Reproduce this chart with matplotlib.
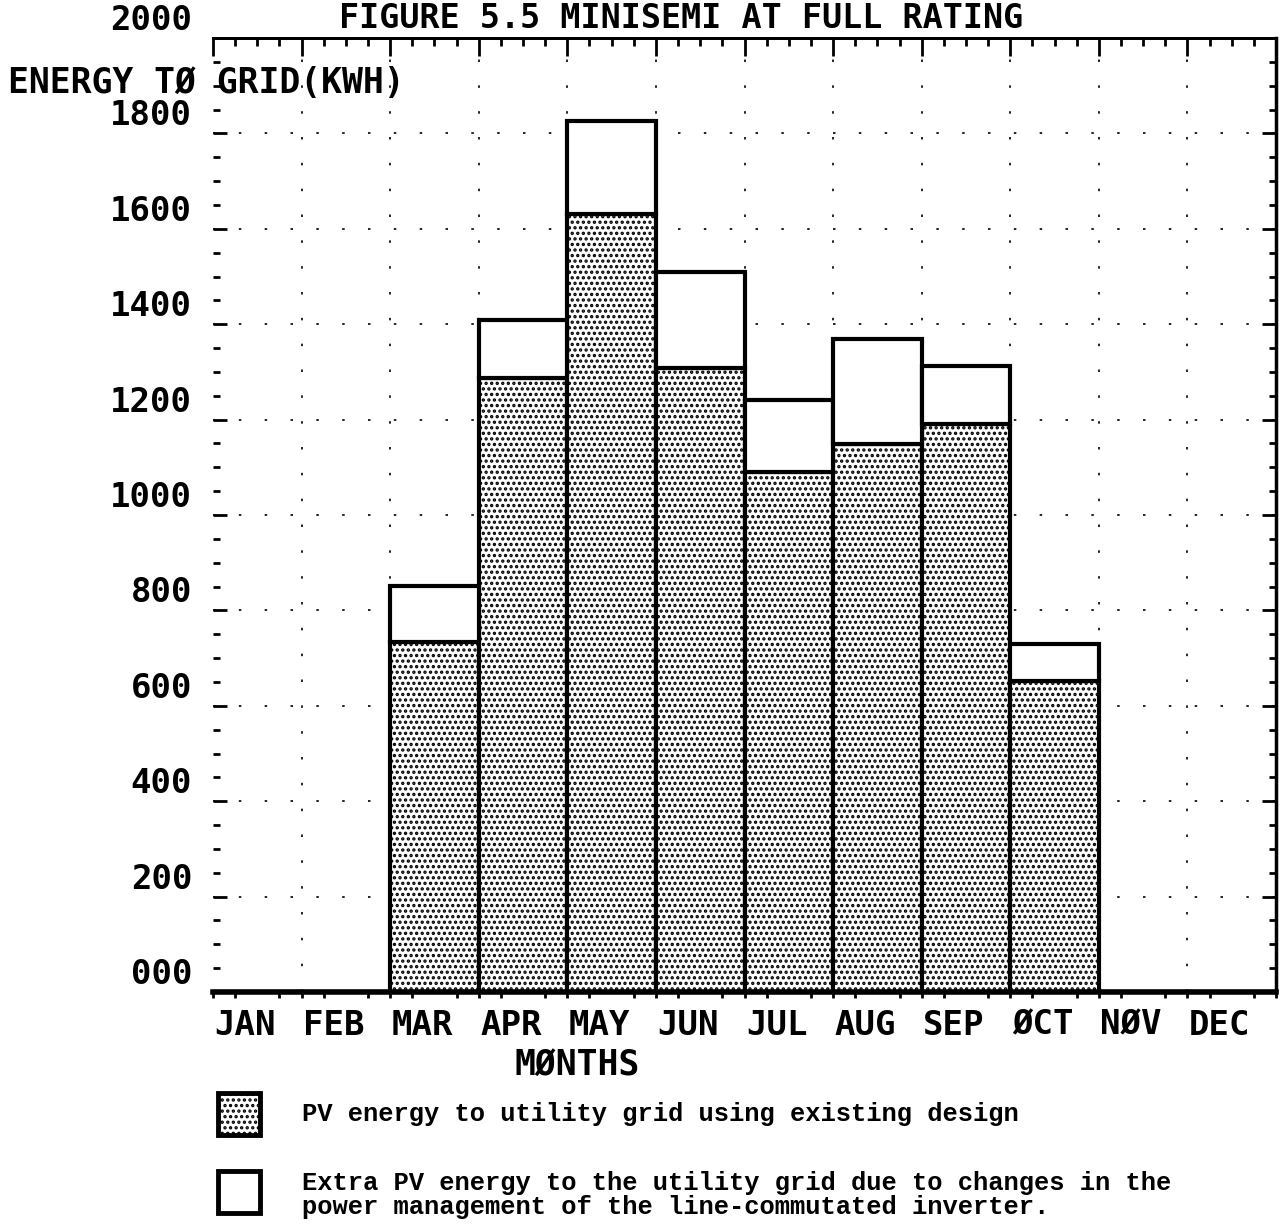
import numpy as np
import matplotlib
matplotlib.use("Agg")
import matplotlib.pyplot as plt
from matplotlib.patches import Rectangle
from matplotlib.ticker import MultipleLocator
from matplotlib.transforms import ScaledTranslation

# Monthly energy delivered to the grid (kWh)
months = ["JAN", "FEB", "MAR", "APR", "MAY", "JUN",
          "JUL", "AUG", "SEP", "ØCT", "NØV", "DEC"]
existing_kwh = [0, 0, 734, 1288, 1632, 1309, 1090, 1149, 1190, 653, 0, 0]
improved_kwh = [0, 0, 852, 1409, 1827, 1509, 1241, 1369, 1313, 730, 0, 0]
y_ticks = [0, 200, 400, 600, 800, 1000, 1200, 1400, 1600, 1800, 2000]
y_tick_labels = ["000", "200", "400", "600", "800", "1000",
                 "1200", "1400", "1600", "1800", "2000"]

title = "FIGURE 5.5 MINISEMI AT FULL RATING"
legend_existing = "PV energy to utility grid using existing design"
legend_extra = ("Extra PV energy to the utility grid due to changes in the\n"
                "power management of the line-commutated inverter.")

plt.rcParams["hatch.linewidth"] = 1.6
plot_font = dict(family="DejaVu Sans Mono", weight="bold")
type_font = dict(family="Liberation Mono", weight="bold")

W, H = 1285, 1230
fig = plt.figure(figsize=(W / 100, H / 100), dpi=100)
ax = fig.add_axes([213 / W, (H - 992) / H, (1276 - 213) / W, (992 - 38) / H])

x = np.arange(len(months))
existing = np.array(existing_kwh)
extra = np.array(improved_kwh) - existing

ax.bar(x, existing, width=1, align="edge", facecolor="white",
       edgecolor="black", linewidth=3, hatch="...", zorder=2)
ax.bar(x, extra, bottom=existing, width=1, align="edge", facecolor="white",
       edgecolor="black", linewidth=3, zorder=2)

ax.set_xlim(0, len(months))
ax.set_ylim(0, 2000)

# sparse dotted grid at month boundaries and every 200 kWh
grid_style = dict(color="black", lw=1.2, ls=(0, (1.5, 14)))
for b in x[1:]:
    ax.axvline(b, zorder=0.5, **grid_style)
ax.set_axisbelow(True)
ax.yaxis.grid(True, **grid_style)

# y axis
ax.set_yticks(y_ticks, y_tick_labels)
ax.yaxis.set_minor_locator(MultipleLocator(50))
ax.tick_params(axis="y", which="major", direction="in", length=10, width=2,
               left=True, right=True, pad=15, labelsize=24.5)
ax.tick_params(axis="y", which="minor", direction="in", length=5, width=2,
               left=True, right=True)
up = ScaledTranslation(0, 0.21, fig.dpi_scale_trans)
for lbl in ax.get_yticklabels():
    lbl.set_fontfamily(plot_font["family"])
    lbl.set_fontweight("bold")
    lbl.set_transform(lbl.get_transform() + up)

# x axis: month names centred in each column
ax.set_xticks(x + 0.5, months)
ax.xaxis.set_minor_locator(MultipleLocator(0.25))
ax.tick_params(axis="x", which="major", length=0, pad=12, labelsize=24.5)
ax.tick_params(axis="x", which="minor", direction="out", length=4, width=2)
left = ScaledTranslation(-0.12, 0, fig.dpi_scale_trans)
for lbl in ax.get_xticklabels():
    lbl.set_fontfamily(plot_font["family"])
    lbl.set_fontweight("bold")
    lbl.set_transform(lbl.get_transform() + left)

top = ax.secondary_xaxis("top")
top.set_xticks(np.arange(len(months) + 1), [])
top.xaxis.set_minor_locator(MultipleLocator(0.25))
top.tick_params(which="major", direction="in", length=13, width=2)
top.tick_params(which="minor", direction="in", length=6, width=2)
top.spines["top"].set_linewidth(2)

ax.spines["left"].set_visible(False)
ax.spines["bottom"].set_linewidth(4)
ax.spines["right"].set_linewidth(2.5)
ax.spines["top"].set_linewidth(2)

fig.text(0.530, 1 - 2 / H, title, ha="center", va="top",
         fontsize=24, **plot_font)
fig.text(8 / W, 1 - 83 / H, "ENERGY TØ GRID(KWH)", ha="left", va="center",
         fontsize=25, **plot_font)
fig.text(577 / W, 1 - 1065 / H, "MØNTHS", ha="center", va="center",
         fontsize=25, **plot_font)

# legend boxes
fig.add_artist(Rectangle((218 / W, 1 - 1135 / H), 42 / W, 42 / H,
                         transform=fig.transFigure, facecolor="white",
                         edgecolor="black", lw=3.5, hatch="..."))
fig.add_artist(Rectangle((218 / W, 1 - 1213 / H), 42 / W, 42 / H,
                         transform=fig.transFigure, facecolor="white",
                         edgecolor="black", lw=3.5))
fig.text(302 / W, 1 - 1114 / H, legend_existing, ha="left", va="center",
         fontsize=18.4, **type_font)
fig.text(302 / W, 1 - 1195 / H, legend_extra, ha="left", va="center",
         fontsize=18.4, linespacing=0.95, **type_font)

fig.savefig("out.png", dpi=100)
